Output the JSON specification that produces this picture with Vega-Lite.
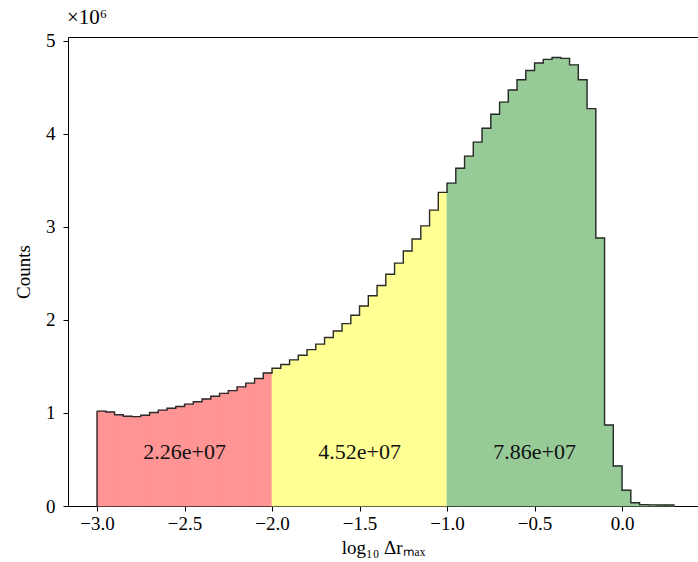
{
  "$schema": "https://vega.github.io/schema/vega-lite/v6.json",
  "width": 630,
  "height": 469,
  "autosize": "none",
  "padding": {"left": 68, "top": 37, "right": 0, "bottom": 56},
  "background": "white",
  "title": {"text": "×10⁶", "anchor": "start", "frame": "group", "font": "Liberation Serif", "fontSize": 21, "fontWeight": "normal", "color": "black", "offset": 4, "dx": -1},
  "config": {"view": {"stroke": null}, "font": "Liberation Serif"},
  "datasets": {
    "hist": [
      {"lo": -3.00, "hi": -2.95, "n": 1020000, "part": "r"},
      {"lo": -2.95, "hi": -2.90, "n": 1010000, "part": "r"},
      {"lo": -2.90, "hi": -2.85, "n": 980000, "part": "r"},
      {"lo": -2.85, "hi": -2.80, "n": 965000, "part": "r"},
      {"lo": -2.80, "hi": -2.75, "n": 960000, "part": "r"},
      {"lo": -2.75, "hi": -2.70, "n": 975000, "part": "r"},
      {"lo": -2.70, "hi": -2.65, "n": 1005000, "part": "r"},
      {"lo": -2.65, "hi": -2.60, "n": 1030000, "part": "r"},
      {"lo": -2.60, "hi": -2.55, "n": 1050000, "part": "r"},
      {"lo": -2.55, "hi": -2.50, "n": 1070000, "part": "r"},
      {"lo": -2.50, "hi": -2.45, "n": 1095000, "part": "r"},
      {"lo": -2.45, "hi": -2.40, "n": 1120000, "part": "r"},
      {"lo": -2.40, "hi": -2.35, "n": 1150000, "part": "r"},
      {"lo": -2.35, "hi": -2.30, "n": 1180000, "part": "r"},
      {"lo": -2.30, "hi": -2.25, "n": 1210000, "part": "r"},
      {"lo": -2.25, "hi": -2.20, "n": 1240000, "part": "r"},
      {"lo": -2.20, "hi": -2.15, "n": 1280000, "part": "r"},
      {"lo": -2.15, "hi": -2.10, "n": 1320000, "part": "r"},
      {"lo": -2.10, "hi": -2.05, "n": 1370000, "part": "r"},
      {"lo": -2.05, "hi": -2.00, "n": 1430000, "part": "r"},
      {"lo": -2.00, "hi": -1.95, "n": 1480000, "part": "y"},
      {"lo": -1.95, "hi": -1.90, "n": 1520000, "part": "y"},
      {"lo": -1.90, "hi": -1.85, "n": 1570000, "part": "y"},
      {"lo": -1.85, "hi": -1.80, "n": 1620000, "part": "y"},
      {"lo": -1.80, "hi": -1.75, "n": 1680000, "part": "y"},
      {"lo": -1.75, "hi": -1.70, "n": 1740000, "part": "y"},
      {"lo": -1.70, "hi": -1.65, "n": 1810000, "part": "y"},
      {"lo": -1.65, "hi": -1.60, "n": 1880000, "part": "y"},
      {"lo": -1.60, "hi": -1.55, "n": 1960000, "part": "y"},
      {"lo": -1.55, "hi": -1.50, "n": 2050000, "part": "y"},
      {"lo": -1.50, "hi": -1.45, "n": 2150000, "part": "y"},
      {"lo": -1.45, "hi": -1.40, "n": 2260000, "part": "y"},
      {"lo": -1.40, "hi": -1.35, "n": 2370000, "part": "y"},
      {"lo": -1.35, "hi": -1.30, "n": 2490000, "part": "y"},
      {"lo": -1.30, "hi": -1.25, "n": 2610000, "part": "y"},
      {"lo": -1.25, "hi": -1.20, "n": 2740000, "part": "y"},
      {"lo": -1.20, "hi": -1.15, "n": 2870000, "part": "y"},
      {"lo": -1.15, "hi": -1.10, "n": 3010000, "part": "y"},
      {"lo": -1.10, "hi": -1.05, "n": 3180000, "part": "y"},
      {"lo": -1.05, "hi": -1.00, "n": 3370000, "part": "y"},
      {"lo": -1.00, "hi": -0.95, "n": 3470000, "part": "g"},
      {"lo": -0.95, "hi": -0.90, "n": 3630000, "part": "g"},
      {"lo": -0.90, "hi": -0.85, "n": 3760000, "part": "g"},
      {"lo": -0.85, "hi": -0.80, "n": 3910000, "part": "g"},
      {"lo": -0.80, "hi": -0.75, "n": 4060000, "part": "g"},
      {"lo": -0.75, "hi": -0.70, "n": 4210000, "part": "g"},
      {"lo": -0.70, "hi": -0.65, "n": 4340000, "part": "g"},
      {"lo": -0.65, "hi": -0.60, "n": 4470000, "part": "g"},
      {"lo": -0.60, "hi": -0.55, "n": 4580000, "part": "g"},
      {"lo": -0.55, "hi": -0.50, "n": 4680000, "part": "g"},
      {"lo": -0.50, "hi": -0.45, "n": 4760000, "part": "g"},
      {"lo": -0.45, "hi": -0.40, "n": 4800000, "part": "g"},
      {"lo": -0.40, "hi": -0.35, "n": 4820000, "part": "g"},
      {"lo": -0.35, "hi": -0.30, "n": 4810000, "part": "g"},
      {"lo": -0.30, "hi": -0.25, "n": 4740000, "part": "g"},
      {"lo": -0.25, "hi": -0.20, "n": 4580000, "part": "g"},
      {"lo": -0.20, "hi": -0.15, "n": 4270000, "part": "g"},
      {"lo": -0.15, "hi": -0.10, "n": 2880000, "part": "g"},
      {"lo": -0.10, "hi": -0.05, "n": 870000, "part": "g"},
      {"lo": -0.05, "hi": 0.00, "n": 430000, "part": "g"},
      {"lo": 0.00, "hi": 0.05, "n": 170000, "part": "g"},
      {"lo": 0.05, "hi": 0.10, "n": 35000, "part": "g"},
      {"lo": 0.10, "hi": 0.15, "n": 15000, "part": "g"},
      {"lo": 0.15, "hi": 0.20, "n": 12000, "part": "g"},
      {"lo": 0.20, "hi": 0.25, "n": 10000, "part": "g"},
      {"lo": 0.25, "hi": 0.30, "n": 10000, "part": "g"}
    ],
    "labels": [
      {"x": -2.5, "y": 585000, "text": "2.26e+07"},
      {"x": -1.5, "y": 585000, "text": "4.52e+07"},
      {"x": -0.5, "y": 585000, "text": "7.86e+07"}
    ]
  },
  "resolve": {"axis": {"x": "independent"}},
  "layer": [
    {
      "data": {"name": "hist"},
      "mark": {"type": "rect", "strokeWidth": 0.8},
      "encoding": {
        "x": {"field": "lo", "type": "quantitative", "title": "log₁₀ Δrₘₐₓ",
          "scale": {"domain": [-3.166, 0.434], "nice": false, "zero": false},
          "axis": {"values": [-3, -2.5, -2, -1.5, -1, -0.5, 0], "format": ".1f", "grid": false,
            "domainColor": "black", "tickColor": "black", "tickSize": 5, "labelColor": "black",
            "labelFont": "Liberation Serif", "labelFontSize": 19, "labelPadding": 3,
            "titleFont": "Liberation Serif", "titleFontSize": 19, "titleFontWeight": "normal", "titleColor": "black", "titlePadding": 5}},
        "x2": {"field": "hi"},
        "y": {"field": "n", "type": "quantitative", "title": "Counts",
          "scale": {"domain": [0, 5040000], "nice": false},
          "axis": {"values": [0, 1000000, 2000000, 3000000, 4000000, 5000000], "labelExpr": "format(datum.value / 1000000, 'd')", "grid": false,
            "domainColor": "black", "tickColor": "black", "tickSize": 5, "labelColor": "black",
            "labelFont": "Liberation Serif", "labelFontSize": 19, "labelPadding": 8,
            "titleFont": "Liberation Serif", "titleFontSize": 19, "titleFontWeight": "normal", "titleColor": "black", "titlePadding": 12}},
        "color": {"field": "part", "type": "nominal", "legend": null,
          "scale": {"domain": ["r", "y", "g"], "range": ["#ff9494", "#ffff94", "#96ca96"]}},
        "stroke": {"field": "part", "type": "nominal", "legend": null,
          "scale": {"domain": ["r", "y", "g"], "range": ["#ff9494", "#ffff94", "#96ca96"]}}
      }
    },
    {
      "data": {"name": "hist"},
      "transform": [{"fold": ["lo", "hi"], "as": ["edge", "xv"]}],
      "mark": {"type": "line", "color": "#2a2a2a", "strokeWidth": 1.4},
      "encoding": {
        "x": {"field": "xv", "type": "quantitative", "axis": null},
        "y": {"field": "n", "type": "quantitative", "title": "Counts"},
        "order": [{"field": "lo", "type": "quantitative"}, {"field": "edge", "type": "nominal", "sort": "descending"}]
      }
    },
    {
      "data": {"name": "hist"},
      "transform": [{"filter": "datum.lo == -3 || datum.lo == 0.25"}],
      "mark": {"type": "rule", "color": "#2a2a2a", "strokeWidth": 1.4},
      "encoding": {
        "x": {"field": "lo", "type": "quantitative", "axis": null},
        "y": {"field": "n", "type": "quantitative", "title": "Counts"},
        "y2": {"datum": 0}
      }
    },
    {
      "data": {"name": "labels"},
      "mark": {"type": "text", "font": "Liberation Serif", "fontSize": 22, "color": "#111", "baseline": "middle", "align": "center"},
      "encoding": {
        "x": {"field": "x", "type": "quantitative",
          "axis": {"orient": "top", "labels": false, "ticks": false, "title": null, "grid": false, "domainColor": "black"}},
        "y": {"field": "y", "type": "quantitative", "title": "Counts"},
        "text": {"field": "text"}
      }
    }
  ]
}
